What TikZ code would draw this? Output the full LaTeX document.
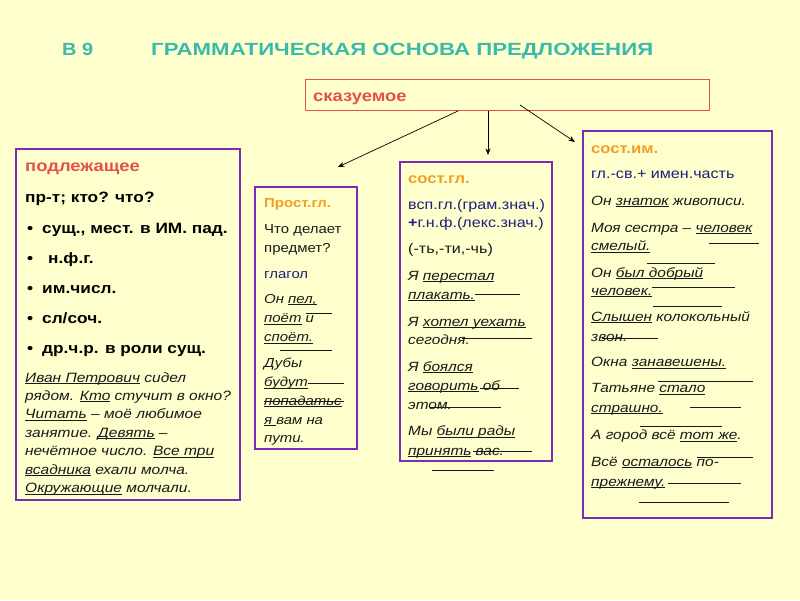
\documentclass[tikz,border=0pt]{standalone}
\usepackage{fontspec}
\setmainfont{Liberation Sans}[FakeStretch=1.15]
\newfontfamily\titlefont{Liberation Sans}
\usetikzlibrary{arrows.meta}
\definecolor{bg}{RGB}{255,255,206}
\definecolor{teal}{RGB}{58,186,172}
\definecolor{hred}{RGB}{228,80,80}
\definecolor{horange}{RGB}{240,158,40}
\definecolor{hblue}{RGB}{30,30,128}
\definecolor{bpurple}{RGB}{122,44,180}
\definecolor{ink}{RGB}{25,25,25}
\newcommand\ulw[1]{\setbox0\hbox{#1}\rlap{\rule[-2.2pt]{\wd0}{0.75pt}}\box0\relax}
\tikzset{
  txt/.style={anchor=base west, inner sep=0pt, text=ink, font=\fontsize{14}{16}\selectfont},
  itx/.style={txt, font=\fontsize{13.4}{16}\selectfont\itshape},
  itl/.style={txt, font=\fontsize{13.5}{16}\selectfont\itshape},
  itp/.style={txt, font=\fontsize{13}{15}\selectfont\itshape},
  rgp/.style={txt, font=\fontsize{13}{15}\selectfont},
  bdl/.style={txt, text=black, font=\fontsize{15}{17}\selectfont\bfseries},
  hdr/.style={txt, text=hred, font=\fontsize{16}{18}\selectfont\bfseries},
  hdo/.style={txt, text=horange, font=\fontsize{14.5}{17}\selectfont\bfseries},
  blu/.style={txt, text=hblue, font=\fontsize{14}{16}\selectfont},
  pbox/.style={draw=bpurple, line width=1.3pt, inner sep=0pt},
  stray/.style={draw=ink, line width=0.8pt},
  arr/.style={draw=black, line width=0.7pt, -{Stealth[length=6.5pt,width=5pt]}}
}
\begin{document}
\begin{tikzpicture}[x=1pt,y=-1pt]
\fill[bg] (0,0) rectangle (800,600);
\useasboundingbox (0,0) rectangle (800,600);

% title
\node[anchor=base west, inner sep=0pt, text=teal] (t1) at (62,55)
  {\resizebox{31pt}{12.3pt}{\titlefont\bfseries В 9}};
\node[anchor=base west, inner sep=0pt, text=teal] (t2) at (151,55)
  {\resizebox{502pt}{12.3pt}{\titlefont\bfseries ГРАММАТИЧЕСКАЯ ОСНОВА ПРЕДЛОЖЕНИЯ}};

% boxes
\node[draw=hred, line width=0.8pt, minimum width=404pt, minimum height=31pt, inner sep=0pt] (skaz) at (507.5,95) {};
\node[hdr] (skt) at (313,101) {сказуемое};
\node[pbox, minimum width=224pt, minimum height=351pt] (podl) at (128,324.5) {};
\node[pbox, minimum width=102pt, minimum height=262pt] (prost) at (306,318) {};
\node[pbox, minimum width=152pt, minimum height=299pt] (sostgl) at (476,311.5) {};
\node[pbox, minimum width=189pt, minimum height=387pt] (sostim) at (677.5,324.5) {};

% arrows
\coordinate (a1s) at (458,111); \coordinate (a1e) at (338,167);
\coordinate (a2s) at (488,111); \coordinate (a2e) at (488,155);
\coordinate (a3s) at (520,105); \coordinate (a3e) at (575,142);
\draw[arr] (a1s) -- (a1e);
\draw[arr] (a2s) -- (a2e);
\draw[arr] (a3s) -- (a3e);

% left box
\node[hdr] (p0) at (25,171) {подлежащее};
\node[bdl] (p1) at (25,202) {пр-т; кто? что?};
\node[bdl] (q1) at (27,233) {•}; \node[bdl] (p2) at (42,233) {сущ., мест. в ИМ. пад.};
\node[bdl] (q2) at (27,263) {•}; \node[bdl] (p3) at (48,263) {н.ф.г.};
\node[bdl] (q3) at (27,293) {•}; \node[bdl] (p4) at (42,293) {им.числ.};
\node[bdl] (q4) at (27,323) {•}; \node[bdl] (p5) at (42,323) {сл/соч.};
\node[bdl] (q5) at (27,353) {•}; \node[bdl] (p6) at (42,353) {др.ч.р. в роли сущ.};
\node[itl] (e1) at (25,382) {\ulw{Иван Петрович} сидел};
\node[itl] (e2) at (25,400) {рядом. \ulw{Кто} стучит в окно?};
\node[itl] (e3) at (25,418.5) {\ulw{Читать} – моё любимое};
\node[itl] (e4) at (25,437) {занятие. \ulw{Девять} –};
\node[itl] (e5) at (25,455.5) {нечётное число. \ulw{Все три}};
\node[itl] (e6) at (25,474) {\ulw{всадника} ехали молча.};
\node[itl] (e7) at (25,492.5) {\ulw{Окружающие} молчали.};

% prost box
\node[hdo, font=\fontsize{13}{15}\selectfont\bfseries] (r0) at (264,207) {Прост.гл.};
\node[rgp] (r1) at (264,233) {Что делает};
\node[rgp] (r2) at (264,252) {предмет?};
\node[rgp, text=hblue] (r3) at (264,278) {глагол};
\node[itp] (r4) at (264,303) {Он \ulw{пел,}};
\node[itp] (r5) at (264,322.5) {\ulw{поёт} и};
\node[itp] (r6) at (264,341.5) {\ulw{споёт.}};
\node[itp] (r7) at (264,367.5) {Дубы};
\node[itp] (r8) at (264,386.5) {\ulw{будут}};
\node[itp] (r9) at (264,405) {\ulw{попадатьс}};
\node[itp] (r10) at (264,424) {\ulw{я }вам на};
\node[itp] (r11) at (264,442.5) {пути.};
\draw[stray] (306,313) -- (332,313);
\draw[stray] (280,350) -- (332,350);
\draw[stray] (308,383) -- (344,383);
\draw[stray] (264,401) -- (344,401);

% sost.gl box
\node[hdo] (s0) at (408,183) {сост.гл.};
\node[blu] (s1) at (408,209) {всп.гл.(грам.знач.)};
\node[blu] (s2) at (408,227) {\textbf{+}г.н.ф.(лекс.знач.)};
\node[txt] (s3) at (408,253) {(-ть,-ти,-чь)};
\node[itx] (s4) at (408,280) {Я \ulw{перестал}};
\node[itx] (s5) at (408,299) {\ulw{плакать.}};
\node[itx] (s6) at (408,326) {Я \ulw{хотел уехать}};
\node[itx] (s7) at (408,344.5) {сегодня.};
\node[itx] (s8) at (408,371) {Я \ulw{боялся}};
\node[itx] (s9) at (408,390) {\ulw{говорить} об};
\node[itx] (s10) at (408,409) {этом.};
\node[itx] (s11) at (408,435.5) {Мы \ulw{были рады}};
\node[itx] (s12) at (408,455) {\ulw{принять} вас.};
\draw[stray] (475,294) -- (520,294);
\draw[stray] (462,338) -- (532,338);
\draw[stray] (480,388.5) -- (519,388.5);
\draw[stray] (430,407) -- (501,407);
\draw[stray] (473,451) -- (532,451);
\draw[stray] (432,470) -- (494,470);

% sost.im box
\node[hdo] (m0) at (591,153) {сост.им.};
\node[blu] (m1) at (591,178) {гл.-св.+ имен.часть};
\node[itx] (m2) at (591,205) {Он \ulw{знаток} живописи.};
\node[itx] (m3) at (591,232) {Моя сестра – \ulw{человек}};
\node[itx] (m4) at (591,250.5) {\ulw{смелый.}};
\node[itx] (m5) at (591,277) {Он \ulw{был добрый}};
\node[itx] (m6) at (591,295) {\ulw{человек.}};
\node[itx] (m7) at (591,321) {\ulw{Слышен} колокольный};
\node[itx] (m8) at (591,341.5) {звон.};
\node[itx] (m9) at (591,366.5) {Окна \ulw{занавешены.}};
\node[itx] (m10) at (591,392.5) {Татьяне \ulw{стало}};
\node[itx] (m11) at (591,412) {\ulw{страшно.}};
\node[itx] (m12) at (591,439.5) {А город всё \ulw{тот же}.};
\node[itx] (m13) at (591,466) {Всё \ulw{осталось} по-};
\node[itx] (m14) at (591,486) {\ulw{прежнему.}};
\draw[stray] (709,243) -- (759,243);
\draw[stray] (647,263) -- (715,263);
\draw[stray] (652,287) -- (735,287);
\draw[stray] (653,306) -- (722,306);
\draw[stray] (602,338) -- (658,338);
\draw[stray] (658,381) -- (753,381);
\draw[stray] (690,407) -- (741,407);
\draw[stray] (640,426) -- (722,426);
\draw[stray] (697,457) -- (753,457);
\draw[stray] (668,483) -- (741,483);
\draw[stray] (639,502) -- (729,502);
\end{tikzpicture}
\end{document}
